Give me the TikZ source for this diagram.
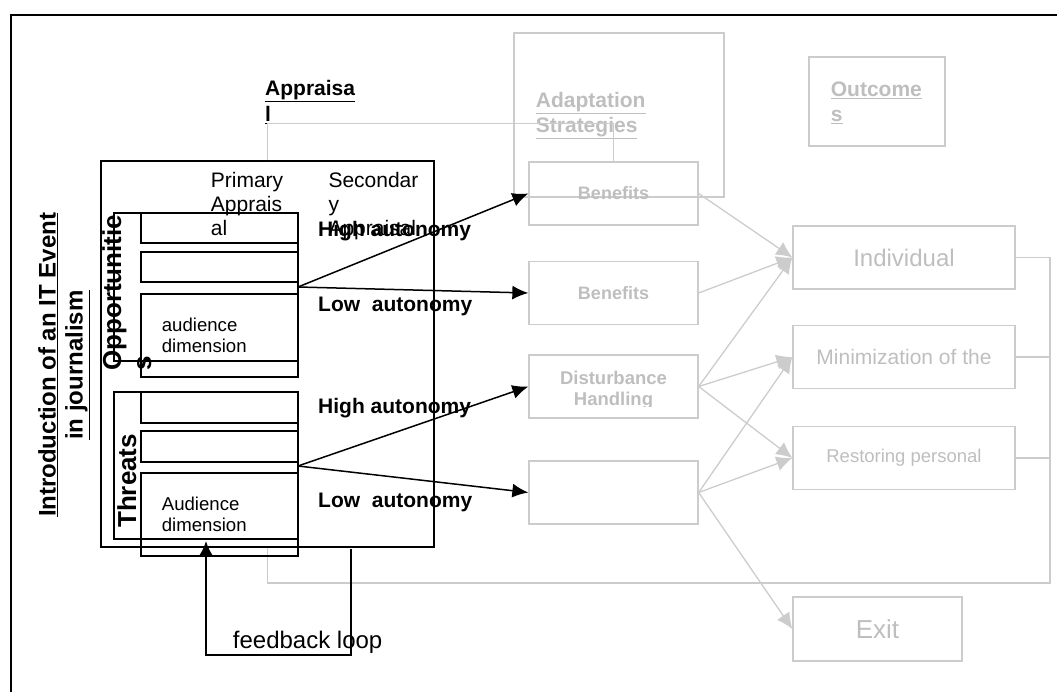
\documentclass[tikz,border=0pt]{standalone}
\usepackage{fontspec}
\setmainfont{Liberation Sans}
\usetikzlibrary{arrows.meta,fit,positioning}
\definecolor{linegrey}{RGB}{204,204,204}
\definecolor{textgrey}{RGB}{190,190,190}

\begin{document}
\begin{tikzpicture}[x=1pt, y=-1pt,
    blk/.style={draw=black, line width=1.3pt},
    gry/.style={draw=linegrey, line width=1.3pt},
    blkarr/.style={black, line width=1.5pt, -{Latex[length=16pt,width=14pt]}},
    gryarr/.style={linegrey, line width=1.3pt, -{Latex[length=16pt,width=15pt]}},
    boxfit/.style={blk, inner sep=0pt},
    txt/.style={inner sep=0pt, align=left, anchor=north west},
    hd/.style={font=\bfseries\fontsize{21}{25}\selectfont},
    rg/.style={font=\fontsize{21}{24}\selectfont},
    stratbox/.style={gry, minimum width=169pt, minimum height=63pt, inner sep=0pt,
        text=textgrey, font=\bfseries\fontsize{18}{21}\selectfont},
    outbox/.style={gry, minimum width=222pt, minimum height=63pt, inner sep=0pt, text=textgrey}]
  \useasboundingbox (0,0) rectangle (1057,692);

  % outer frame
  \draw[blk] (1070,15) -- (11,15) -- (11,710);

  % strategies and outcomes (grey)
  \node[gry, inner sep=0pt, fit={(514,33) (724,197)}] (adapt) {};
  \node[txt, hd, text=textgrey] (adapttxt) at (535.7,92) {\underline{Adaptation}\\\underline{Strategies}};
  \node[gry, inner sep=0pt, fit={(809,57) (945,146)}] (outc) {};
  \node[txt, hd, text=textgrey] (outctxt) at (830.7,81.5) {\underline{Outcome}\\\underline{s}};

  \node[stratbox] (ben1) at (613.5,193.5) {Benefits};
  \node[stratbox] (ben2) at (613.5,293) {Benefits};
  \node[stratbox] (dist) at (613.5,386.5) {};
  \begin{scope}
    \clip (529,348) rectangle (698,406.5);
    \node[align=center, inner sep=0pt, text=textgrey, font=\bfseries\fontsize{18.5}{21}\selectfont]
      (disttxt) at (613.5,390.7) {Disturbance\\Handling};
  \end{scope}
  \node[stratbox] (blank) at (613.5,492.5) {};

  \node[outbox, font=\fontsize{24}{27}\selectfont] (indiv) at (904,257.5) {Individual};
  \node[outbox, font=\fontsize{21}{24}\selectfont] (minim) at (904,357) {Minimization of the};
  \node[outbox, font=\fontsize{18.5}{21}\selectfont] (restor) at (904,458) {Restoring personal};
  \node[outbox, minimum width=169pt, minimum height=64pt, font=\fontsize{26}{30}\selectfont] (exit) at (877.5,629) {Exit};

  \foreach \src/\dst in {ben1/indiv, ben2/indiv, dist/indiv, dist/minim, dist/restor,
                         blank/minim, blank/restor, blank/exit}
    \draw[gryarr] (\src.east) -- (\dst.west);

  % appraisal box
  \node[boxfit, fit={(101,161) (434,547)}] (apprbox) {};
  \node[txt, font=\bfseries\fontsize{21}{25.5}\selectfont] (apprtxt) at (265,80.5) {\underline{Appraisa}\\\underline{l}};

  % grey links
  \coordinate (busbot) at (1050,583);
  \draw[gry] (apprbox.north) -- ++(0,-37) -| (ben1.north);
  \draw[gry] (indiv.east) -| (busbot) -| (apprbox.south);
  \draw[gry] (minim.east) -- (minim.east -| busbot);
  \draw[gry] (restor.east) -- (restor.east -| busbot);

  \node[txt, rg] (primtxt) at (210.7,172) {Primary\\Apprais\\al};
  \node[txt, rg] (sectxt) at (328.3,172) {Secondar\\y\\Appraisal};

  % opportunities
  \node[boxfit, fit={(114,213) (298,361)}] (oppbox) {};
  \node[boxfit, fit={(141,213) (298,243)}] (opp1) {};
  \node[boxfit, fit={(141,252) (298,282)}] (opp2) {};
  \node[boxfit, fit={(141,294) (298,377)}] (opp3) {};
  \node[txt, rotate=90, font=\bfseries\fontsize{26}{30}\selectfont] (opptxt) at (102,371) {Opportunitie\\s};
  \node[txt, font=\fontsize{18.6}{20.6}\selectfont] (oppaud) at (161.7,318) {audience\\dimension};

  % threats
  \node[boxfit, fit={(114,392) (298,539)}] (thrbox) {};
  \node[boxfit, fit={(141,392) (298,423)}] (thr1) {};
  \node[boxfit, fit={(141,431) (298,462)}] (thr2) {};
  \node[boxfit, fit={(141,473) (298,556)}] (thr3) {};
  \node[txt, rotate=90, font=\bfseries\fontsize{26}{30}\selectfont] (thrtxt) at (117,528) {Threats};
  \node[txt, font=\fontsize{18.6}{20.6}\selectfont] (thraud) at (161.7,497.2) {Audience\\dimension};

  \node[rotate=90, anchor=north, inner sep=0pt, align=center, font=\bfseries\fontsize{24}{27}\selectfont]
    (intro) at (38,365) {\underline{Introduction of an IT Event}\\\underline{in journalism}};

  % autonomy labels
  \node[anchor=base west, inner sep=0pt, hd] (hi1) at (318,236.7) {High autonomy};
  \node[anchor=base west, inner sep=0pt, hd] (lo1) at (318,311.7) {Low\ \ autonomy};
  \node[anchor=base west, inner sep=0pt, hd] (hi2) at (318,413.3) {High autonomy};
  \node[anchor=base west, inner sep=0pt, hd] (lo2) at (318,507.7) {Low\ \ autonomy};

  % black arrows
  \coordinate (oppout) at (298,287);
  \coordinate (throut) at (298,466);
  \foreach \dst in {ben1, ben2}
    \draw[blkarr] (oppout) -- (\dst.west);
  \foreach \dst in {dist, blank}
    \draw[blkarr] (throut) -- (\dst.west);

  % feedback loop
  \coordinate (fbtop) at (351,549);
  \coordinate (fbend) at (206,541);
  \draw[blkarr, line width=1.7pt, -{Latex[length=14pt,width=13pt]}] (fbtop) -- ++(0,106) -| (fbend);
  \node[anchor=base west, inner sep=0pt, font=\fontsize{24}{27}\selectfont] (fbtxt) at (232.7,648) {feedback loop};
\end{tikzpicture}
\end{document}
